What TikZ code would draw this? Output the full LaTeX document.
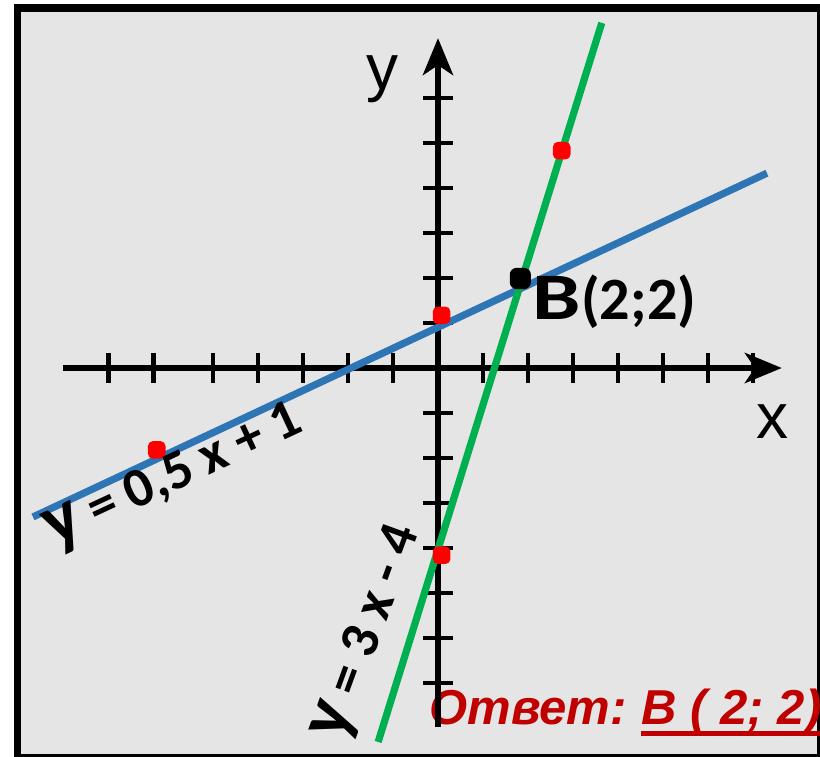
\documentclass[tikz,border=0pt]{standalone}
\usepackage{fontspec}
\setmainfont{Carlito}
\newfontfamily\axisfont{Liberation Sans}
\usepackage{graphicx}
\usepackage{tikz}
\usetikzlibrary{arrows.meta}
\newcommand{\fs}[1]{\fontsize{#1}{#1}\selectfont}
\colorlet{panel}{black!10}
\definecolor{lineblue}{RGB}{46,117,182}
\definecolor{linegreen}{RGB}{0,176,80}
\definecolor{answerred}{RGB}{192,0,0}

\begin{document}
\begin{tikzpicture}[x=1cm, y=1cm,
    axisline/.style={line width=0.133cm, -{Stealth[length=0.82cm, width=0.67cm, inset=0.22cm]}},
    axistick/.style={line width=0.11cm},
    plotline/.style={line width=0.16cm},
    dotbox/.style={rectangle, rounded corners=0.11cm, minimum size=0.39cm, inner sep=0pt}]
  \useasboundingbox (-9.733,-8.644) rectangle (8.489,8.178);
  \clip (-9.733,-8.644) rectangle (8.489,8.178);
  % panel
  \draw[line width=0.156cm, fill=panel] (-9.344,8.0) rectangle (8.5,-8.656);
  % answer
  \node[font=\axisfont\bfseries\itshape\fs{31pt}, text=answerred, anchor=base west, inner sep=0pt]
    (ans) at (-0.2,-7.933) {Ответ:};
  \node[font=\axisfont\bfseries\itshape\fs{31pt}, text=answerred, anchor=base west, inner sep=0pt]
    (ansB) at ([xshift=0.32cm]ans.base east) {B ( 2; 2)};
  \draw[answerred, line width=0.11cm] ([yshift=-0.18cm]ansB.base west) -- ([yshift=-0.18cm]ansB.base east);
  % axes
  \coordinate (xstart) at (-8.33,0);
  \coordinate (xend) at (7.64,0);
  \coordinate (ystart) at (0,-7.98);
  \coordinate (yend) at (0,7.33);
  \foreach \u in {-7.33,-6.33,-5,-4,-3,-2,-1,1,2,3,4,5,6,7}
    \draw[axistick] (\u,-0.33) -- (\u,0.33);
  \foreach \v in {-7,-6,-5,-4,-3,-2,-1,1,2,3,4,5,6}
    \draw[axistick] (-0.33,\v) -- (0.33,\v);
  \draw[axisline] (xstart) -- (xend);
  \draw[axisline] (ystart) -- (yend);
  \node[font=\axisfont\fs{40.5pt}, anchor=base west, inner sep=0pt] (ylab) at (-1.6,6.18) {y};
  \node[font=\axisfont\fs{40.5pt}, anchor=base west, inner sep=0pt] (xlab) at (7.07,-1.56) {x};
  % the two lines
  \coordinate (blueA) at (-9.0,-3.31);
  \coordinate (blueB) at (7.31,4.33);
  \coordinate (greenA) at (-1.33,-8.31);
  \coordinate (greenB) at (3.64,7.67);
  \draw[plotline, lineblue] (blueA) -- (blueB);
  \draw[plotline, linegreen] (greenA) -- (greenB);
  % points on the lines
  \foreach \p/\q [count=\n] in {-6.25/-1.82, 0.08/1.17, 0.08/-4.16, 2.75/4.83}
    \node[dotbox, fill=red] (pt\n) at (\p,\q) {};
  \node[dotbox, fill=black, minimum size=0.47cm, rounded corners=0.15cm] (B) at (1.83,1.99) {};
  \node[font=\bfseries\fs{38pt}, anchor=base west, inner sep=0pt] (Blab) at (2.1,1.07)
    {{\fs{42pt}\scalebox{1.3}[1]{B}}(2;2)};
  % equations along the lines
  \node[rotate=25, font=\bfseries\fs{35pt}, inner sep=0pt] (bluelab) at (-5.86,-2.44)
    {{\fs{47pt}y} = 0,5 x + 1};
  \node[rotate=70, font=\bfseries\fs{35pt}, inner sep=0pt] (greenlab) at (-1.53,-5.9)
    {{\fs{47pt}y} = 3 x - 4};
\end{tikzpicture}
\end{document}
